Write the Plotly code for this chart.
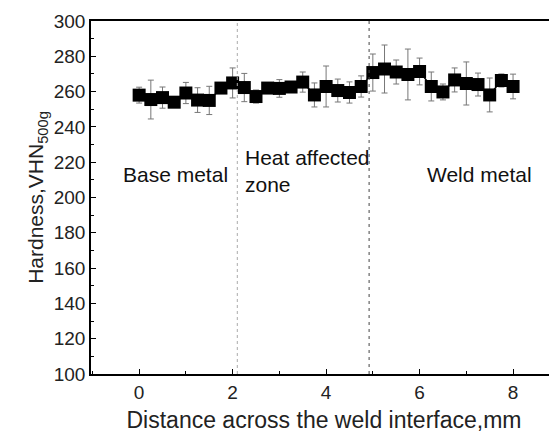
import plotly.graph_objects as go

distance_mm = [0, 0.25, 0.5, 0.75, 1.0, 1.25, 1.5, 1.75, 2.0, 2.25, 2.5, 2.75, 3.0, 3.25,
               3.5, 3.75, 4.0, 4.25, 4.5, 4.75, 5.0, 5.25, 5.5, 5.75, 6.0, 6.25, 6.5,
               6.75, 7.0, 7.25, 7.5, 7.75, 8.0]
hardness = [258, 255.5, 256.6, 254, 259.2, 255.2, 255, 262, 264.9, 262.3, 257.2, 262, 261.8,
            262.6, 265.4, 258.1, 262.9, 260.6, 259.5, 262.9, 270.8, 272.8, 271.1, 269.7,
            271.4, 262.9, 259.8, 266.6, 264.6, 264, 258.1, 266.3, 262.9]
hardness_err = [4.5, 11, 6, 2, 6, 7, 8, 2, 8.5, 8, 3.7, 2, 5, 2, 5.7, 6.8, 11.6, 6.5, 6, 6,
                10.5, 13.6, 6.8, 14.4, 7.6, 8.2, 4.5, 6.8, 12.2, 6.5, 9.6, 3.7, 7]
zone_boundaries = [2.1, 4.92]
zone_labels = ["Base metal", "Heat affected<br>zone", "Weld metal"]
zone_label_x = [0.77, 2.22, 7.29]
zone_label_y = [213, 215, 213]
x_ticks = [0, 2, 4, 6, 8]
y_ticks = [100, 120, 140, 160, 180, 200, 220, 240, 260, 280, 300]

FONT = "Liberation Sans, Arial"

fig = go.Figure()
fig.add_trace(go.Scatter(
    x=distance_mm, y=hardness, mode="lines+markers",
    line=dict(color="black", width=1.5),
    marker=dict(symbol="square", size=13, color="black"),
    error_y=dict(type="data", array=hardness_err, visible=True,
                 color="#777777", thickness=1, width=3),
    showlegend=False,
))

fig.add_shape(type="line", x0=zone_boundaries[0], x1=zone_boundaries[0], y0=0, y1=1,
              xref="x", yref="paper", line=dict(color="#aaaaaa", width=1, dash="dot"))
fig.add_shape(type="line", x0=zone_boundaries[1], x1=zone_boundaries[1], y0=0, y1=1,
              xref="x", yref="paper", line=dict(color="#444444", width=1, dash="3px,4px"))

anchors = ["center", "left", "center"]
for lbl, lx, ly, anc in zip(zone_labels, zone_label_x, zone_label_y, anchors):
    fig.add_annotation(x=lx, y=ly, text=lbl, showarrow=False, xanchor=anc, align="left",
                       font=dict(family=FONT, size=21, color="#111111"))

axis_font = dict(family=FONT, size=19, color="#222222")
fig.update_xaxes(range=[-1.03, 8.94], tickvals=x_ticks, ticks="inside", ticklen=5,
                 tickcolor="black", showline=True, linecolor="black", linewidth=1.5,
                 mirror=True, showgrid=False, zeroline=False, tickfont=axis_font,
                 minor=dict(dtick=1, ticks="inside", ticklen=3, tickcolor="black"),
                 title=dict(text="Distance across the weld interface,mm",
                            font=dict(family=FONT, size=23, color="#222222"),
                            standoff=10))
fig.update_yaxes(range=[100, 300], tickvals=y_ticks, ticks="inside", ticklen=5,
                 tickcolor="black", showline=True, linecolor="black", linewidth=1.5,
                 mirror=False, showgrid=False, zeroline=False, tickfont=axis_font,
                 minor=dict(dtick=10, ticks="inside", ticklen=3, tickcolor="black"),
                 title=dict(text="Hardness,VHN<sub>500g</sub>",
                            font=dict(family=FONT, size=21, color="#222222"),
                            standoff=4))
fig.update_layout(width=549, height=433, margin=dict(l=83, r=0, t=13, b=67),
                  paper_bgcolor="white", plot_bgcolor="white")
fig.write_html("out.html")
